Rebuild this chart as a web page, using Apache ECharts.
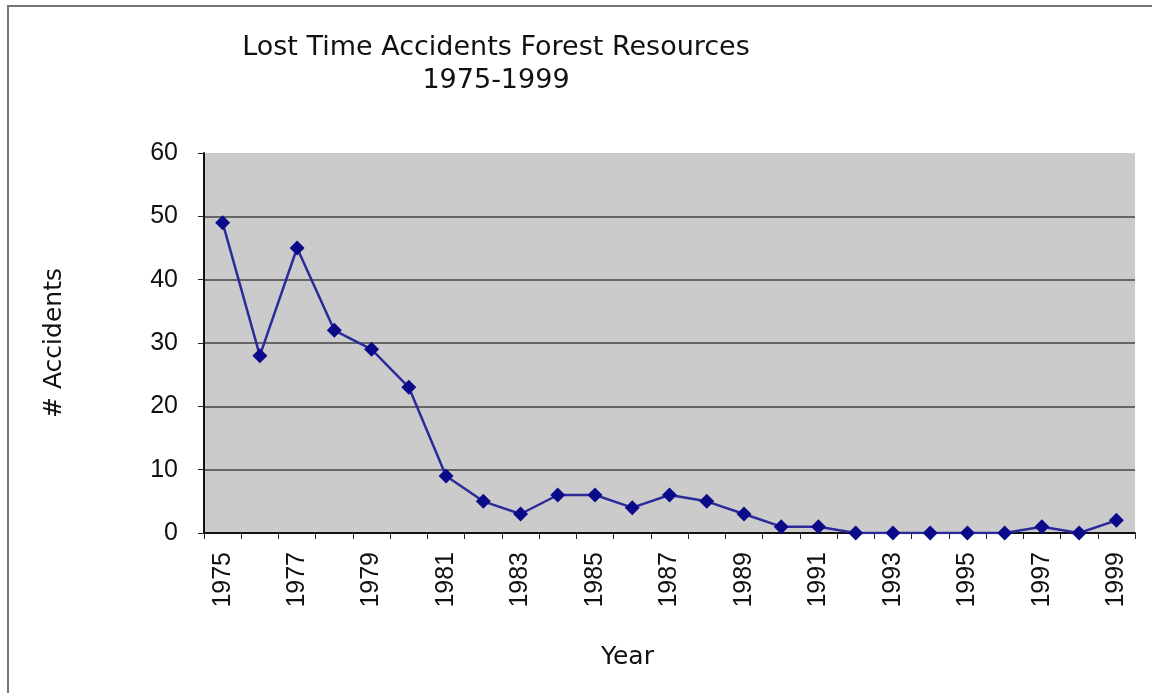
<!DOCTYPE html>
<html>
<head>
<meta charset="utf-8">
<script src="https://cdn.jsdelivr.net/npm/echarts@6/dist/echarts.min.js"></script>
<style>
  html, body { margin: 0; padding: 0; background: #fff; }
  #chart { width: 1152px; height: 693px; }
</style>
</head>
<body>
<div id="chart"></div>
<script>
// years on the x axis
const years = ['1975', '1976', '1977', '1978', '1979', '1980', '1981', '1982', '1983',
    '1984', '1985', '1986', '1987', '1988', '1989', '1990', '1991', '1992', '1993',
    '1994', '1995', '1996', '1997', '1998', '1999'];
// lost time accidents per year
const accidents = [49, 28, 45, 32, 29, 23, 9, 5, 3, 6, 6, 4, 6, 5, 3, 1, 1, 0, 0, 0, 0, 0, 1, 0, 2];

const comic = '"Comic Sans MS", "DejaVu Sans", sans-serif';
const arial = '"Liberation Sans", Arial, sans-serif';

let myChart = echarts.init(document.getElementById('chart'));
myChart.setOption({
    animation: false,
    backgroundColor: '#fff',
    title: {
        text: 'Lost Time Accidents Forest Resources\n1975-1999',
        left: 491,
        top: 26,
        textAlign: 'center',
        textStyle: {
            fontFamily: comic,
            fontSize: 27,
            fontWeight: 'normal',
            color: '#111',
            lineHeight: 33
        }
    },
    graphic: [{
        type: 'polyline',
        shape: { points: [[8, 693], [8, 6], [1152, 6]] },
        style: { stroke: '#777', lineWidth: 2, fill: null }
    }],
    grid: {
        left: 204,
        top: 153,
        right: 17,
        bottom: 160,
        show: true,
        backgroundColor: '#cbcbcb',
        borderWidth: 0
    },
    xAxis: {
        type: 'category',
        data: years,
        boundaryGap: true,
        name: 'Year',
        nameLocation: 'middle',
        nameGap: 112,
        nameTextStyle: {
            fontFamily: comic,
            fontSize: 25,
            color: '#111',
            padding: [0, 84, 0, 0]
        },
        axisLine: { lineStyle: { color: '#111', width: 2 } },
        axisTick: { show: true, interval: 0, length: 6, lineStyle: { color: '#222' } },
        axisLabel: {
            interval: 1,
            rotate: 90,
            margin: 19,
            fontFamily: arial,
            fontSize: 25,
            color: '#111'
        },
        splitLine: { show: false }
    },
    yAxis: {
        type: 'value',
        min: 0,
        max: 60,
        interval: 10,
        name: '# Accidents',
        nameLocation: 'middle',
        nameGap: 137,
        nameTextStyle: {
            fontFamily: comic,
            fontSize: 25,
            color: '#111'
        },
        axisLine: { show: true, lineStyle: { color: '#111', width: 2 } },
        axisTick: { show: true, length: 6, lineStyle: { color: '#222' } },
        axisLabel: {
            margin: 26,
            fontFamily: arial,
            fontSize: 25,
            color: '#111'
        },
        splitLine: {
            show: true,
            showMaxLine: false,
            lineStyle: { color: '#444', width: 1.5 }
        }
    },
    series: [{
        type: 'line',
        data: accidents,
        symbol: 'diamond',
        symbolSize: 15,
        lineStyle: { color: '#2b2b9c', width: 2.5 },
        itemStyle: { color: '#0b0b8a' }
    }]
});
</script>
</body>
</html>
